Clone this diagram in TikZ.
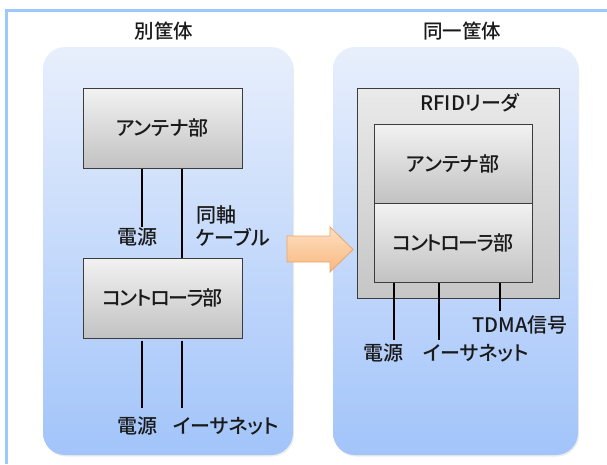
\documentclass[tikz,border=0pt]{standalone}
\usepackage{fontspec}
\setmainfont{Noto Sans CJK JP}[UprightFont={* Medium}, RawFeature=+palt]
\usetikzlibrary{shadows}
\definecolor{frameblue}{RGB}{158,200,250}
\definecolor{paneltop}{RGB}{232,239,252}
\definecolor{panelbot}{RGB}{162,196,250}
\definecolor{boxtop}{RGB}{242,242,242}
\definecolor{boxbot}{RGB}{194,194,194}
\definecolor{rfidtop}{RGB}{234,234,234}
\definecolor{rfidbot}{RGB}{198,198,198}
\definecolor{arrtop}{RGB}{253,224,194}
\definecolor{arrbot}{RGB}{249,184,128}
\definecolor{arrline}{RGB}{238,164,104}
\definecolor{boxline}{RGB}{60,60,60}
\definecolor{txt}{RGB}{26,26,26}
\newcommand{\tightkana}[1]{{\addfontfeature{LetterSpace=-7}#1}}
\tikzset{
  panel/.style={rounded corners=22pt, top color=paneltop, bottom color=panelbot,
    draw=none, inner sep=0pt, drop shadow={shadow xshift=1pt, shadow yshift=-1.5pt, opacity=0.15}},
  unitbox/.style={draw=boxline, line width=1pt, top color=boxtop, bottom color=boxbot,
    inner sep=0pt, font=\fontsize{20}{22}\selectfont, text=txt},
  rfidbox/.style={draw=boxline, line width=1pt, top color=rfidtop, bottom color=rfidbot, inner sep=0pt},
  lbl/.style={font=\fontsize{20}{22}\selectfont, text=txt, inner sep=0pt},
  ttl/.style={font=\fontsize{19.5}{22}\selectfont, text=txt, inner sep=0pt},
  wire/.style={line width=1.5pt, black},
}
\begin{document}
\begin{tikzpicture}[x=1pt, y=-1pt]
\useasboundingbox (0,0) rectangle (607,464);
\fill[white] (0,0) rectangle (607,464);
% frame
\draw[frameblue, line width=3pt] (6.5,464) -- (6.5,10.5) -- (607,10.5);

% titles
\node[ttl] (t1) at (164,31) {別筐体};
\node[ttl] (t2) at (462,31) {同一筐体};

% panels
\node[panel, minimum width=250pt, minimum height=408pt] (lp) at (168,251) {};
\node[panel, minimum width=245pt, minimum height=408pt] (rp) at (455.5,251) {};

% left side
\node[unitbox, minimum width=159pt, minimum height=80pt, drop shadow={shadow xshift=1pt, shadow yshift=-1pt, opacity=0.25}] (antA) at (162.5,128) {アンテナ部};
\node[unitbox, minimum width=159pt, minimum height=80pt, drop shadow={shadow xshift=1pt, shadow yshift=-1pt, opacity=0.25}] (ctrlA) at (162.5,298) {\tightkana{コントローラ部}};

\node[lbl] (pwA) at (137.5,237) {電源};
\node[lbl, anchor=west] (coax1) at (196,215) {同軸};
\node[lbl, anchor=west] (coax2) at (196,237) {ケーブル};
\coordinate (pA) at (142,227);
\coordinate (xA) at (182,0);
\draw[wire] (antA.south -| pA) -- (pA);
\draw[wire] (antA.south -| xA) -- (ctrlA.north -| xA);

\node[lbl] (pwA2) at (137.5,426) {電源};
\node[lbl, anchor=west] (ethA) at (173,426) {イーサネット};
\coordinate (pA2) at (142,408);
\coordinate (eA2) at (182,408);
\draw[wire] ([yshift=-2pt]ctrlA.south -| pA2) -- (pA2);
\draw[wire] ([yshift=-2pt]ctrlA.south -| eA2) -- (eA2);

% right side
\node[rfidbox, minimum width=202pt, minimum height=210pt, drop shadow={shadow xshift=1pt, shadow yshift=-1pt, opacity=0.25}] (rfid) at (458,193) {};
\node[lbl] (rfidl) at (470,103) {RFIDリーダ};
\node[unitbox, minimum width=158pt, minimum height=79pt] (antB) at (453,163.5) {アンテナ部};
\node[unitbox, minimum width=158pt, minimum height=79pt] (ctrlB) at (453,242.5) {\tightkana{コントローラ部}};

\coordinate (pB) at (394,340);
\coordinate (eB) at (439,340);
\coordinate (tB) at (500,311);
\draw[wire] (ctrlB.south -| pB) -- (pB);
\draw[wire] (ctrlB.south -| eB) -- (eB);
\draw[wire] (ctrlB.south -| tB) -- (tB);
\node[lbl] (tdma) at (520,325) {TDMA信号};
\node[lbl] (pwB) at (383,353) {電源};
\node[lbl] (ethB) at (476,353) {イーサネット};

% arrow
\draw[arrline, line width=0.8pt, top color=arrtop, bottom color=arrbot]
  (287,236) -- (330,236) -- (330,227) -- (353,249.5) -- (330,272) -- (330,262) -- (287,262) -- cycle;
\end{tikzpicture}
\end{document}
